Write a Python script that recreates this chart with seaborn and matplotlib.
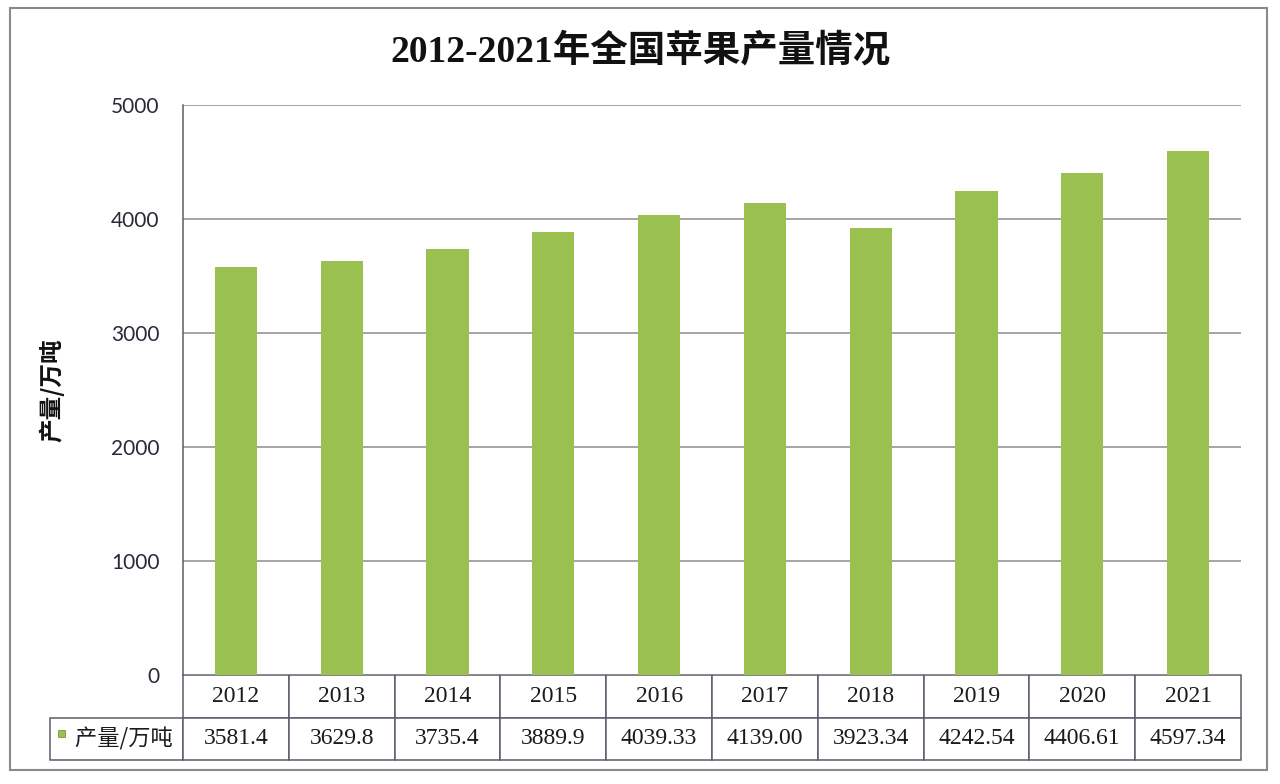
import matplotlib
matplotlib.use('Agg')
import matplotlib.pyplot as plt
import matplotlib.patches as mpatches
import seaborn as sns
import pandas as pd

# data
years = ['2012', '2013', '2014', '2015', '2016', '2017', '2018', '2019', '2020', '2021']
production = [3581.4, 3629.8, 3735.4, 3889.9, 4039.33, 4139.00, 3923.34, 4242.54, 4406.61, 4597.34]
value_labels = ['3581.4', '3629.8', '3735.4', '3889.9', '4039.33', '4139.00',
                '3923.34', '4242.54', '4406.61', '4597.34']
series_name = '产量/万吨'
title = '2012-2021年全国苹果产量情况'

df = pd.DataFrame({'year': years, 'value': production})

sns.set_style('white')
plt.rcParams['font.family'] = ['Lato', 'Noto Sans CJK SC', 'DejaVu Sans']

bar_color = '#9AC04F'
line_color = '#5f5b6b'

fig = plt.figure(figsize=(12.8, 7.84), dpi=100)
fig.set_facecolor('white')
ax = fig.add_axes([183 / 1280, 1 - 675 / 784, 1058 / 1280, 570 / 784])

sns.barplot(data=df, x='year', y='value', color=bar_color, width=0.4,
            saturation=1, edgecolor='none', ax=ax, zorder=3)

ax.set_ylim(0, 5000)
ax.set_xlim(-0.5, len(years) - 0.5)
ax.set_yticks([0, 1000, 2000, 3000, 4000, 5000])
ax.yaxis.grid(True, color='#8c8c8c', linewidth=1.1, zorder=0)
ax.set_axisbelow(True)
ax.tick_params(axis='y', length=0, pad=17, labelsize=15, labelcolor='#2b2838')
ax.set_xticks([])
ax.set_xlabel('')
ax.set_ylabel(series_name, fontsize=17, fontweight='bold',
              family=['Noto Sans CJK SC'], color='#111111')
ax.yaxis.set_label_coords(-0.112, 0.5)

for side in ['top', 'right', 'bottom']:
    ax.spines[side].set_visible(False)
ax.spines['left'].set_color(line_color)
ax.spines['left'].set_linewidth(1.1)

# data table under the bars
lab_w = 133 / 1058
col_w = 1.0 / len(years)
tab_h = 85 / 570
cell_text = [[''] + years, ['   ' + series_name] + value_labels]
table = ax.table(cellText=cell_text, colWidths=[lab_w] + [col_w] * len(years),
                 cellLoc='center', bbox=[-lab_w, -tab_h, 1 + lab_w, tab_h])
table.auto_set_font_size(False)
for (r, c), cell in table.get_celld().items():
    cell.set_edgecolor(line_color)
    cell.set_linewidth(1.1)
    txt = cell.get_text()
    txt.set_fontsize(17)
    txt.set_color('#1a1a1a')
    if c == 0:
        txt.set_fontfamily(['Noto Sans CJK SC'])
        txt.set_fontsize(16)
    else:
        txt.set_fontfamily(['Liberation Serif'])
table[(0, 0)].visible_edges = 'open'

# legend key square
ax.add_patch(mpatches.Rectangle((-0.118, -0.108), 0.0068, 0.0115, transform=ax.transAxes,
                                facecolor=bar_color, edgecolor='#7a9a3a', lw=0.6, clip_on=False))

fig.text(0.5, 1 - 52 / 784, title, ha='center', va='center', fontsize=27, fontweight='bold',
         family=['Liberation Serif', 'Noto Sans CJK SC'], color='#111111')

# outer chart frame
fig.patches.append(mpatches.Rectangle((10 / 1280, 1 - 770 / 784), 1257 / 1280, 762 / 784,
                                      transform=fig.transFigure, fill=False,
                                      edgecolor='#8a8a8a', linewidth=1.5))

plt.savefig('out.png', dpi=100)
